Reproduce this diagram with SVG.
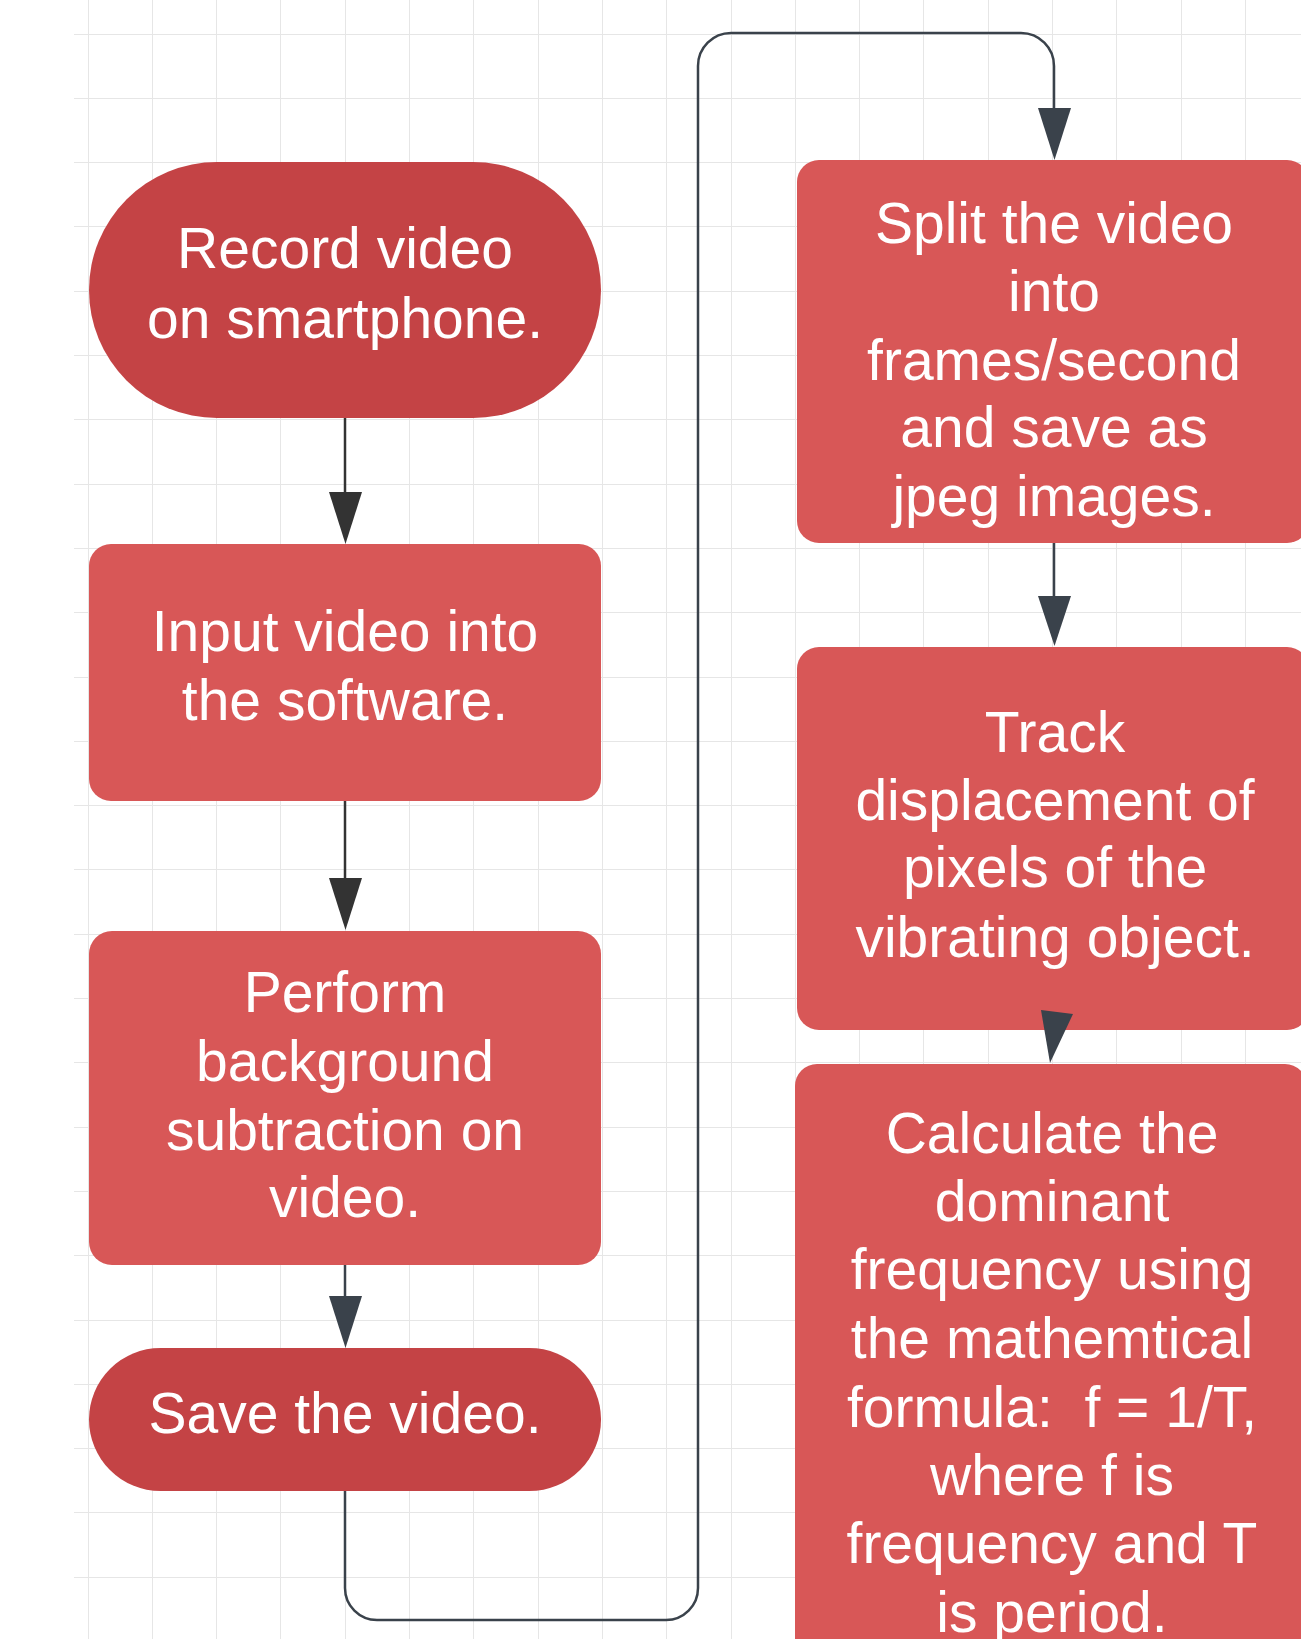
<svg xmlns="http://www.w3.org/2000/svg" width="1301" height="1639" viewBox="0 0 1301 1639">
<style>
.grid{stroke:#e6e6e6;stroke-width:1;fill:none}
.dark{fill:#c44345}
.light{fill:#d85757}
.t{font-family:"Liberation Sans",Arial,sans-serif;font-size:57px;fill:#ffffff;text-anchor:middle}
.c1{stroke:#333333;stroke-width:2.5;fill:none}
.h1{fill:#333333}
.c2{stroke:#3a424b;stroke-width:2.5;fill:none}
.h2{fill:#3a424b}
</style>
<rect x="0" y="0" width="1301" height="1639" fill="#ffffff"/>
<g id="grid" class="grid">
<path d="M88.5 0V1639M152.5 0V1639M216.5 0V1639M280.5 0V1639M345.5 0V1639M409.5 0V1639M473.5 0V1639M538.5 0V1639M602.5 0V1639M666.5 0V1639M731.5 0V1639M795.5 0V1639M859.5 0V1639M923.5 0V1639M988.5 0V1639M1052.5 0V1639M1116.5 0V1639M1181.5 0V1639M1245.5 0V1639"/>
<path d="M74 34.5H1301M74 98.5H1301M74 162.5H1301M74 226.5H1301M74 291.5H1301M74 355.5H1301M74 419.5H1301M74 484.5H1301M74 548.5H1301M74 612.5H1301M74 677.5H1301M74 741.5H1301M74 805.5H1301M74 869.5H1301M74 934.5H1301M74 998.5H1301M74 1062.5H1301M74 1127.5H1301M74 1191.5H1301M74 1255.5H1301M74 1320.5H1301M74 1384.5H1301M74 1448.5H1301M74 1512.5H1301M74 1577.5H1301"/>
</g>
<g id="n-record">
<rect class="dark" x="89" y="162" width="512" height="256" rx="128" ry="128"/>
<text class="t" x="345" y="268">Record video</text>
<text class="t" x="345" y="338">on smartphone.</text>
</g>
<g id="n-input">
<rect class="light" x="89" y="544" width="512" height="257" rx="22" ry="22"/>
<text class="t" x="345" y="651">Input video into</text>
<text class="t" x="345" y="720">the software.</text>
</g>
<g id="n-perform">
<rect class="light" x="89" y="931" width="512" height="334" rx="23" ry="23"/>
<text class="t" x="345" y="1012">Perform</text>
<text class="t" x="345" y="1081">background</text>
<text class="t" x="345" y="1150">subtraction on</text>
<text class="t" x="345" y="1217">video.</text>
</g>
<g id="n-save">
<rect class="dark" x="89" y="1348" width="512" height="143" rx="71.5" ry="71.5"/>
<text class="t" x="345" y="1433">Save the video.</text>
</g>
<g id="n-split">
<rect class="light" x="797" y="160" width="512" height="383" rx="22" ry="22"/>
<text class="t" x="1054" y="243">Split the video</text>
<text class="t" x="1054" y="311">into</text>
<text class="t" x="1054" y="380">frames/second</text>
<text class="t" x="1054" y="447">and save as</text>
<text class="t" x="1054" y="516">jpeg images.</text>
</g>
<g id="n-track">
<rect class="light" x="797" y="647" width="512" height="383" rx="22" ry="22"/>
<text class="t" x="1055" y="752">Track</text>
<text class="t" x="1055" y="820">displacement of</text>
<text class="t" x="1055" y="887">pixels of the</text>
<text class="t" x="1055" y="957">vibrating object.</text>
</g>
<g id="n-calc">
<rect class="light" x="795" y="1064" width="512" height="640" rx="22" ry="22"/>
<text class="t" x="1052" y="1153">Calculate the</text>
<text class="t" x="1052" y="1221">dominant</text>
<text class="t" x="1052" y="1289">frequency using</text>
<text class="t" x="1052" y="1358">the mathemtical</text>
<text class="t" x="1052" y="1427">formula:&#160; f = 1/T,</text>
<text class="t" x="1052" y="1495">where f is</text>
<text class="t" x="1052" y="1563">frequency and T</text>
<text class="t" x="1052" y="1632">is period.</text>
</g>
<g id="connectors">
<path class="c1" d="M345 418V494"/>
<polygon class="h1" points="329,492 362,492 345.5,544"/>
<path class="c1" d="M345 801V880"/>
<polygon class="h1" points="329,878 362,878 345.5,930"/>
<path class="c2" d="M345 1265V1298"/>
<polygon class="h2" points="329,1296 362,1296 345.5,1348"/>
<path class="c2" d="M345 1491V1588A32 32 0 0 0 377 1620H666A32 32 0 0 0 698 1588V66A33 33 0 0 1 731 33H1021A33 33 0 0 1 1054 66V110"/>
<polygon class="h2" points="1038,108 1071,108 1054.5,160"/>
<path class="c2" d="M1054 543V598"/>
<polygon class="h2" points="1038,596 1071,596 1054.5,646"/>
<polygon class="h2" points="1041,1010 1073,1014 1050,1063"/>
</g>
</svg>
